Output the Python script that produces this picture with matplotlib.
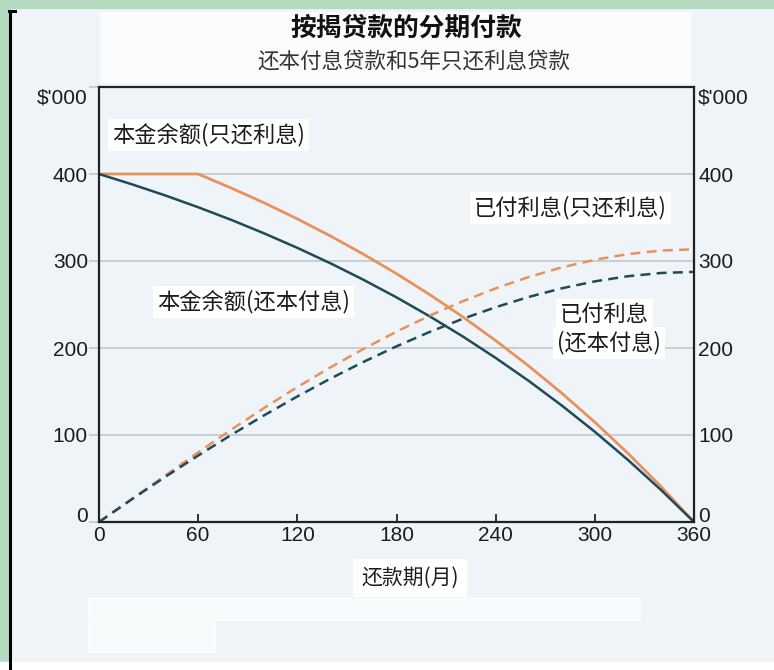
import matplotlib
matplotlib.use("Agg")
import matplotlib.pyplot as plt
import matplotlib.transforms as mtransforms
from matplotlib.patches import Rectangle
from matplotlib.lines import Line2D

# month of repayment
months = [0, 20, 40, 60, 80, 100, 120, 140, 160, 180, 200, 220, 240, 260, 280, 300, 320, 340, 360]
# $'000
pi_balance = [400, 388.1, 375.4, 361.8, 347.3, 331.7, 315.1, 297.4, 278.4, 258.2, 236.5,
              213.4, 188.6, 162.2, 133.9, 103.7, 71.4, 36.9, 0]
io_balance = [400, 400, 400, 400, 383.9, 366.8, 348.4, 328.8, 307.8, 285.4, 261.5,
              235.9, 208.5, 179.3, 148.1, 114.7, 79.0, 40.8, 0]
pi_interest = [0, 26.3, 51.8, 76.4, 100.1, 122.7, 144.3, 164.8, 184.0, 201.9, 218.4,
               233.5, 246.9, 258.7, 268.6, 276.6, 282.5, 286.2, 287.5]
io_interest = [0, 26.7, 53.3, 80.0, 106.1, 131.2, 155.1, 177.7, 198.9, 218.8, 237.1,
               253.7, 268.5, 281.6, 292.6, 301.4, 307.9, 312.0, 313.4]

x_ticks = [0, 60, 120, 180, 240, 300, 360]
y_ticks = [0, 100, 200, 300, 400, 500]
y_labels = ["0", "100", "200", "300", "400", "$'000"]

title = "按揭贷款的分期付款"
subtitle = "还本付息贷款和5年只还利息贷款"
x_label = "还款期(月)"

CJK = ["Noto Sans CJK SC", "DejaVu Sans"]
NUM = ["Liberation Sans", "DejaVu Sans"]
DARK = "#1e4a5a"
ORANGE = "#e8915c"
BG = "#eff4f8"
GREEN = "#b4dbbf"
INK = "#1c1c1c"

W, H = 774, 670
fig = plt.figure(figsize=(W / 100, H / 100), dpi=100, facecolor=BG)


def fx(px):
    return px / W


def fy(py):
    return 1 - py / H


# frame decorations of the original picture
fig.add_artist(Rectangle((0, fy(8)), 1, 8 / H, transform=fig.transFigure, color=GREEN, zorder=0))
fig.add_artist(Rectangle((0, 0), fx(8), 1, transform=fig.transFigure, color=GREEN, zorder=0))
fig.add_artist(Rectangle((0, 0), 1, 8 / H, transform=fig.transFigure, color="white", zorder=0))
fig.add_artist(Rectangle((fx(100), fy(82)), fx(590), 70 / H, transform=fig.transFigure,
                         color="white", alpha=0.7, zorder=0))
fig.add_artist(Rectangle((fx(88), fy(620)), fx(552), 22 / H, transform=fig.transFigure,
                         color="white", alpha=0.55, zorder=0))
fig.add_artist(Rectangle((fx(88), fy(652)), fx(127), 32 / H, transform=fig.transFigure,
                         color="white", alpha=0.55, zorder=0))
fig.add_artist(Line2D([fx(9.5), fx(9.5)], [0, fy(11)], transform=fig.transFigure,
                      color="black", lw=2.2))
fig.add_artist(Line2D([fx(8.5), fx(15)], [fy(11), fy(11)], transform=fig.transFigure,
                      color="black", lw=2.2))

ax = fig.add_axes([fx(99), fy(522), fx(694 - 99), (522 - 87) / H])
ax.set_facecolor(BG)
ax.set_xlim(0, 360)
ax.set_ylim(0, 500)

for y in y_ticks[1:-1]:
    ax.axhline(y, color="#c5cacd", lw=1.3, zorder=1)

ax.plot(months, io_balance, color=ORANGE, lw=2.0, zorder=3)
ax.plot(months, pi_balance, color=DARK, lw=1.8, zorder=3)
ax.plot(months, io_interest, color=ORANGE, lw=1.8, ls=(0, (4, 2.5)), zorder=3)
ax.plot(months, pi_interest, color=DARK, lw=1.8, ls=(0, (4, 2.5)), zorder=3)

box = dict(facecolor="white", edgecolor="none", pad=3)
ax.text(8, 445, "本金余额(只还利息)", family=CJK, fontsize=16, va="center", ha="left",
        color=INK, bbox=box, zorder=4)
ax.text(35, 253, "本金余额(还本付息)", family=CJK, fontsize=16, va="center", ha="left",
        color=INK, bbox=box, zorder=4)
ax.text(227, 361, "已付利息(只还利息)", family=CJK, fontsize=16, va="center", ha="left",
        color=INK, bbox=box, zorder=4)
ax.text(279, 238, "已付利息", family=CJK, fontsize=16, va="center", ha="left",
        color=INK, bbox=box, zorder=4)
ax.text(277, 206, "(还本付息)", family=CJK, fontsize=16, va="center", ha="left",
        color=INK, bbox=box, zorder=4)

for side in ax.spines.values():
    side.set_color("#222222")
    side.set_linewidth(1.6)
    side.set_zorder(5)

ax.set_xticks(x_ticks)
ax.set_xticklabels([str(t) for t in x_ticks], family=NUM, fontsize=15, color=INK)
ax.tick_params(axis="x", direction="in", length=6, width=1.3, color="#222222", pad=3)

ax.set_yticks(y_ticks)
ax.set_yticklabels(y_labels, family=NUM, fontsize=15, color=INK)
ax.tick_params(axis="y", direction="out", length=7, width=1.3, color="#c5cacd", pad=1)

ax2 = ax.twinx()
ax2.set_ylim(0, 500)
ax2.set_yticks(y_ticks)
ax2.set_yticklabels(y_labels, family=NUM, fontsize=15, color=INK)
ax2.tick_params(axis="y", length=0, pad=3)
for side in ax2.spines.values():
    side.set_visible(False)

# the zero labels sit a little above the axis, the $'000 labels a little below the top
up = mtransforms.ScaledTranslation(0, 8 / 100, fig.dpi_scale_trans)
down = mtransforms.ScaledTranslation(0, -9 / 100, fig.dpi_scale_trans)
for a in (ax, ax2):
    labels = a.get_yticklabels()
    labels[0].set_transform(labels[0].get_transform() + up)
    labels[-1].set_transform(labels[-1].get_transform() + down)

fig.text(fx(406), fy(28), title, family=CJK, fontsize=18.5, fontweight="bold",
         ha="center", va="center", color="#111111")
fig.text(fx(414), fy(62), subtitle, family=CJK, fontsize=15.5, ha="center", va="center",
         color="#333333")
fig.text(fx(410), fy(578), x_label, family=CJK, fontsize=15, ha="center", va="center",
         color=INK, bbox=dict(facecolor="white", edgecolor="none", pad=6))

fig.savefig("out.png", dpi=100, facecolor=BG)
